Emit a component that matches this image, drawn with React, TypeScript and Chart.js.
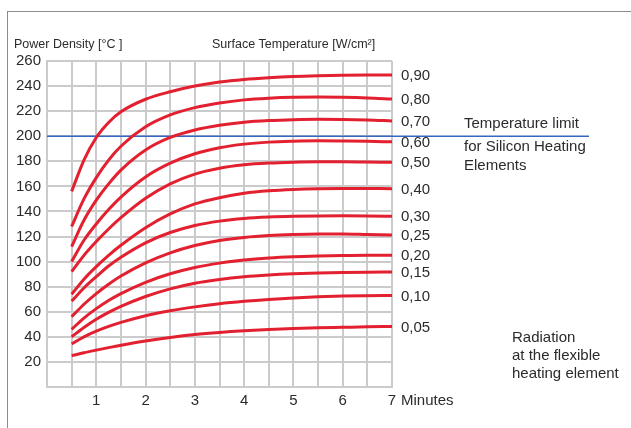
import React, { useEffect, useRef } from "react";
import { Chart, registerables } from "chart.js";

Chart.register(...registerables);

// ---- data ----
const TIMES = [0.5, 0.75, 1, 1.25, 1.5, 2, 2.5, 3, 3.5, 4, 4.5, 5, 5.5, 6, 6.5, 7];
const SERIES_LABELS = ["0,90", "0,80", "0,70", "0,60", "0,50", "0,40", "0,30", "0,25", "0,20", "0,15", "0,10", "0,05"];
const P090 = [156, 181, 199, 211, 219.5, 229.5, 235.5, 240, 243.2, 245.3, 246.7, 247.7, 248.3, 248.7, 248.8, 248.8];
const P080 = [128, 150, 167, 181, 192, 207.5, 217, 222.8, 226.5, 229, 230.3, 231, 231.2, 231, 230.5, 229.6];
const P070 = [112, 133, 149, 162, 173, 189, 199, 205, 208.8, 211.2, 212.5, 213.2, 213.5, 213.4, 213, 212.2];
const P060 = [100, 117, 130, 141.5, 151.5, 167.5, 178.5, 186, 190.8, 193.7, 195.3, 196, 196.3, 196.2, 196, 195.5];
const P050 = [92, 105, 116, 126, 135, 150.5, 162, 169.8, 174.5, 177.2, 178.6, 179.3, 179.6, 179.6, 179.4, 179.2];
const P040 = [74, 86, 96, 105, 113, 127, 138, 146, 151, 154.5, 156.5, 157.6, 158.2, 158.4, 158.3, 158.2];
const P030 = [68.5, 79, 88, 96.5, 103.5, 115, 123.2, 128.8, 132.3, 134.4, 135.5, 136.1, 136.4, 136.5, 136.4, 136.2];
const P025 = [56, 66, 74.5, 82, 88.5, 99, 107, 112.8, 116.8, 119.3, 120.8, 121.6, 122, 122, 121.6, 121.2];
const P020 = [46, 55, 62.5, 69, 74.5, 83.5, 90.3, 95.3, 98.8, 101.2, 102.8, 103.8, 104.4, 104.8, 105, 105];
const P015 = [40, 47.5, 54, 59.5, 64.3, 72.2, 78.3, 82.8, 85.8, 87.9, 89.3, 90.3, 91, 91.4, 91.6, 91.7];
const P010 = [34.4, 40, 44.5, 48.3, 51.5, 56.8, 60.8, 63.9, 66.4, 68.3, 69.8, 71, 71.9, 72.5, 72.8, 73];
const P005 = [25, 27.3, 29.4, 31.4, 33.3, 36.7, 39.5, 41.8, 43.5, 44.8, 45.8, 46.6, 47.2, 47.6, 48, 48.3];
const SERIES = [P090, P080, P070, P060, P050, P040, P030, P025, P020, P015, P010, P005];

const X_MIN = 0;
const X_MAX = 7;
const X_STEP = 0.5;
const Y_MIN = 0;
const Y_MAX = 260;
const Y_STEP = 20;
const LIMIT_VALUE = 200;

const Y_TITLE = "Power Density [°C ]";
const RIGHT_TITLE = "Surface Temperature [W/cm²]";
const X_UNIT = "Minutes";
const LIMIT_TEXT = ["Temperature limit", "for Silicon Heating", "Elements"];
const NOTE_TEXT = ["Radiation", "at the flexible", "heating element"];

const FONT = '"Liberation Sans", Arial, Helvetica, sans-serif';
const TEXT_COLOR = "#2b2b2b";
const RED = "#e3202f";
const BLUE = "#3566c0";
const GRID = "#cbcbcb";

const W = 631;
const H = 428;

const overlay = {
  id: "overlay",
  beforeDatasetsDraw(chart: any) {
    const { ctx, chartArea, scales } = chart;
    const y = scales.y.getPixelForValue(LIMIT_VALUE);
    ctx.save();
    ctx.strokeStyle = BLUE;
    ctx.lineWidth = 1.6;
    ctx.beginPath();
    ctx.moveTo(chartArea.left, y);
    ctx.lineTo(589, y);
    ctx.stroke();
    ctx.restore();
  },
  afterDraw(chart: any) {
    const { ctx, scales } = chart;
    const xs = scales.x;
    const ys = scales.y;
    ctx.save();
    ctx.fillStyle = TEXT_COLOR;
    ctx.textBaseline = "middle";
    ctx.textAlign = "left";
    // titles
    ctx.font = `12.5px ${FONT}`;
    ctx.fillText(Y_TITLE, 14, 45);
    ctx.fillText(RIGHT_TITLE, 212, 45);
    // series labels at the end of each curve
    ctx.font = `15px ${FONT}`;
    const xr = xs.getPixelForValue(X_MAX) + 9;
    SERIES.forEach((s, i) => {
      const v = s[s.length - 1];
      ctx.fillText(SERIES_LABELS[i], xr, ys.getPixelForValue(v) + 1);
    });
    // x unit
    ctx.fillText(X_UNIT, xs.getPixelForValue(X_MAX) + 9, 401);
    // limit text
    ctx.fillText(LIMIT_TEXT[0], 464, 124);
    ctx.fillText(LIMIT_TEXT[1], 464, 147);
    ctx.fillText(LIMIT_TEXT[2], 464, 166);
    // note
    ctx.fillText(NOTE_TEXT[0], 512, 338);
    ctx.fillText(NOTE_TEXT[1], 512, 356);
    ctx.fillText(NOTE_TEXT[2], 512, 374);
    ctx.restore();
  },
};

export default function App() {
  const ref = useRef<HTMLCanvasElement | null>(null);

  useEffect(() => {
    if (!ref.current) return;
    const datasets = SERIES.map((s, i) => ({
      label: SERIES_LABELS[i],
      data: TIMES.map((t, j) => ({ x: t, y: s[j] })),
      borderColor: RED,
      borderWidth: 3,
      pointRadius: 0,
      fill: false,
      cubicInterpolationMode: "monotone" as const,
    }));
    const chart = new Chart(ref.current, {
      type: "line",
      data: { datasets },
      plugins: [overlay],
      options: {
        animation: false,
        responsive: false,
        devicePixelRatio: 1,
        layout: { padding: { top: 61, right: W - 392, bottom: 0, left: 0 } },
        plugins: { legend: { display: false }, tooltip: { enabled: false } },
        scales: {
          x: {
            type: "linear",
            min: X_MIN,
            max: X_MAX,
            afterFit: (scale: any) => {
              scale.height = H - 387;
            },
            ticks: {
              stepSize: X_STEP,
              autoSkip: false,
              maxRotation: 0,
              padding: 5,
              color: TEXT_COLOR,
              font: { family: FONT, size: 15 },
              callback: (v: any) => (Number(v) >= 1 && Number.isInteger(Number(v)) ? String(v) : ""),
            },
            grid: { color: GRID, lineWidth: 2, drawTicks: false },
            border: { color: GRID, width: 2 },
          },
          y: {
            type: "linear",
            min: Y_MIN,
            max: Y_MAX,
            afterFit: (scale: any) => {
              scale.width = 47;
            },
            ticks: {
              stepSize: Y_STEP,
              padding: 6,
              color: TEXT_COLOR,
              font: { family: FONT, size: 15 },
              callback: (v: any) => (Number(v) === 0 ? "" : String(v)),
            },
            grid: { color: GRID, lineWidth: 2, drawTicks: false },
            border: { color: GRID, width: 2 },
          },
        },
      },
    });
    return () => chart.destroy();
  }, []);

  return (
    <div style={{ position: "absolute", left: 0, top: 0, width: W, height: H, background: "#fff", overflow: "hidden" }}>
      <div
        style={{
          position: "absolute",
          left: 7,
          top: 11,
          width: W,
          height: H,
          borderLeft: "1.5px solid #8c8c8c",
          borderTop: "1.5px solid #8c8c8c",
        }}
      />
      <canvas ref={ref} width={W} height={H} style={{ position: "absolute", left: 0, top: 0, width: W, height: H }} />
    </div>
  );
}
